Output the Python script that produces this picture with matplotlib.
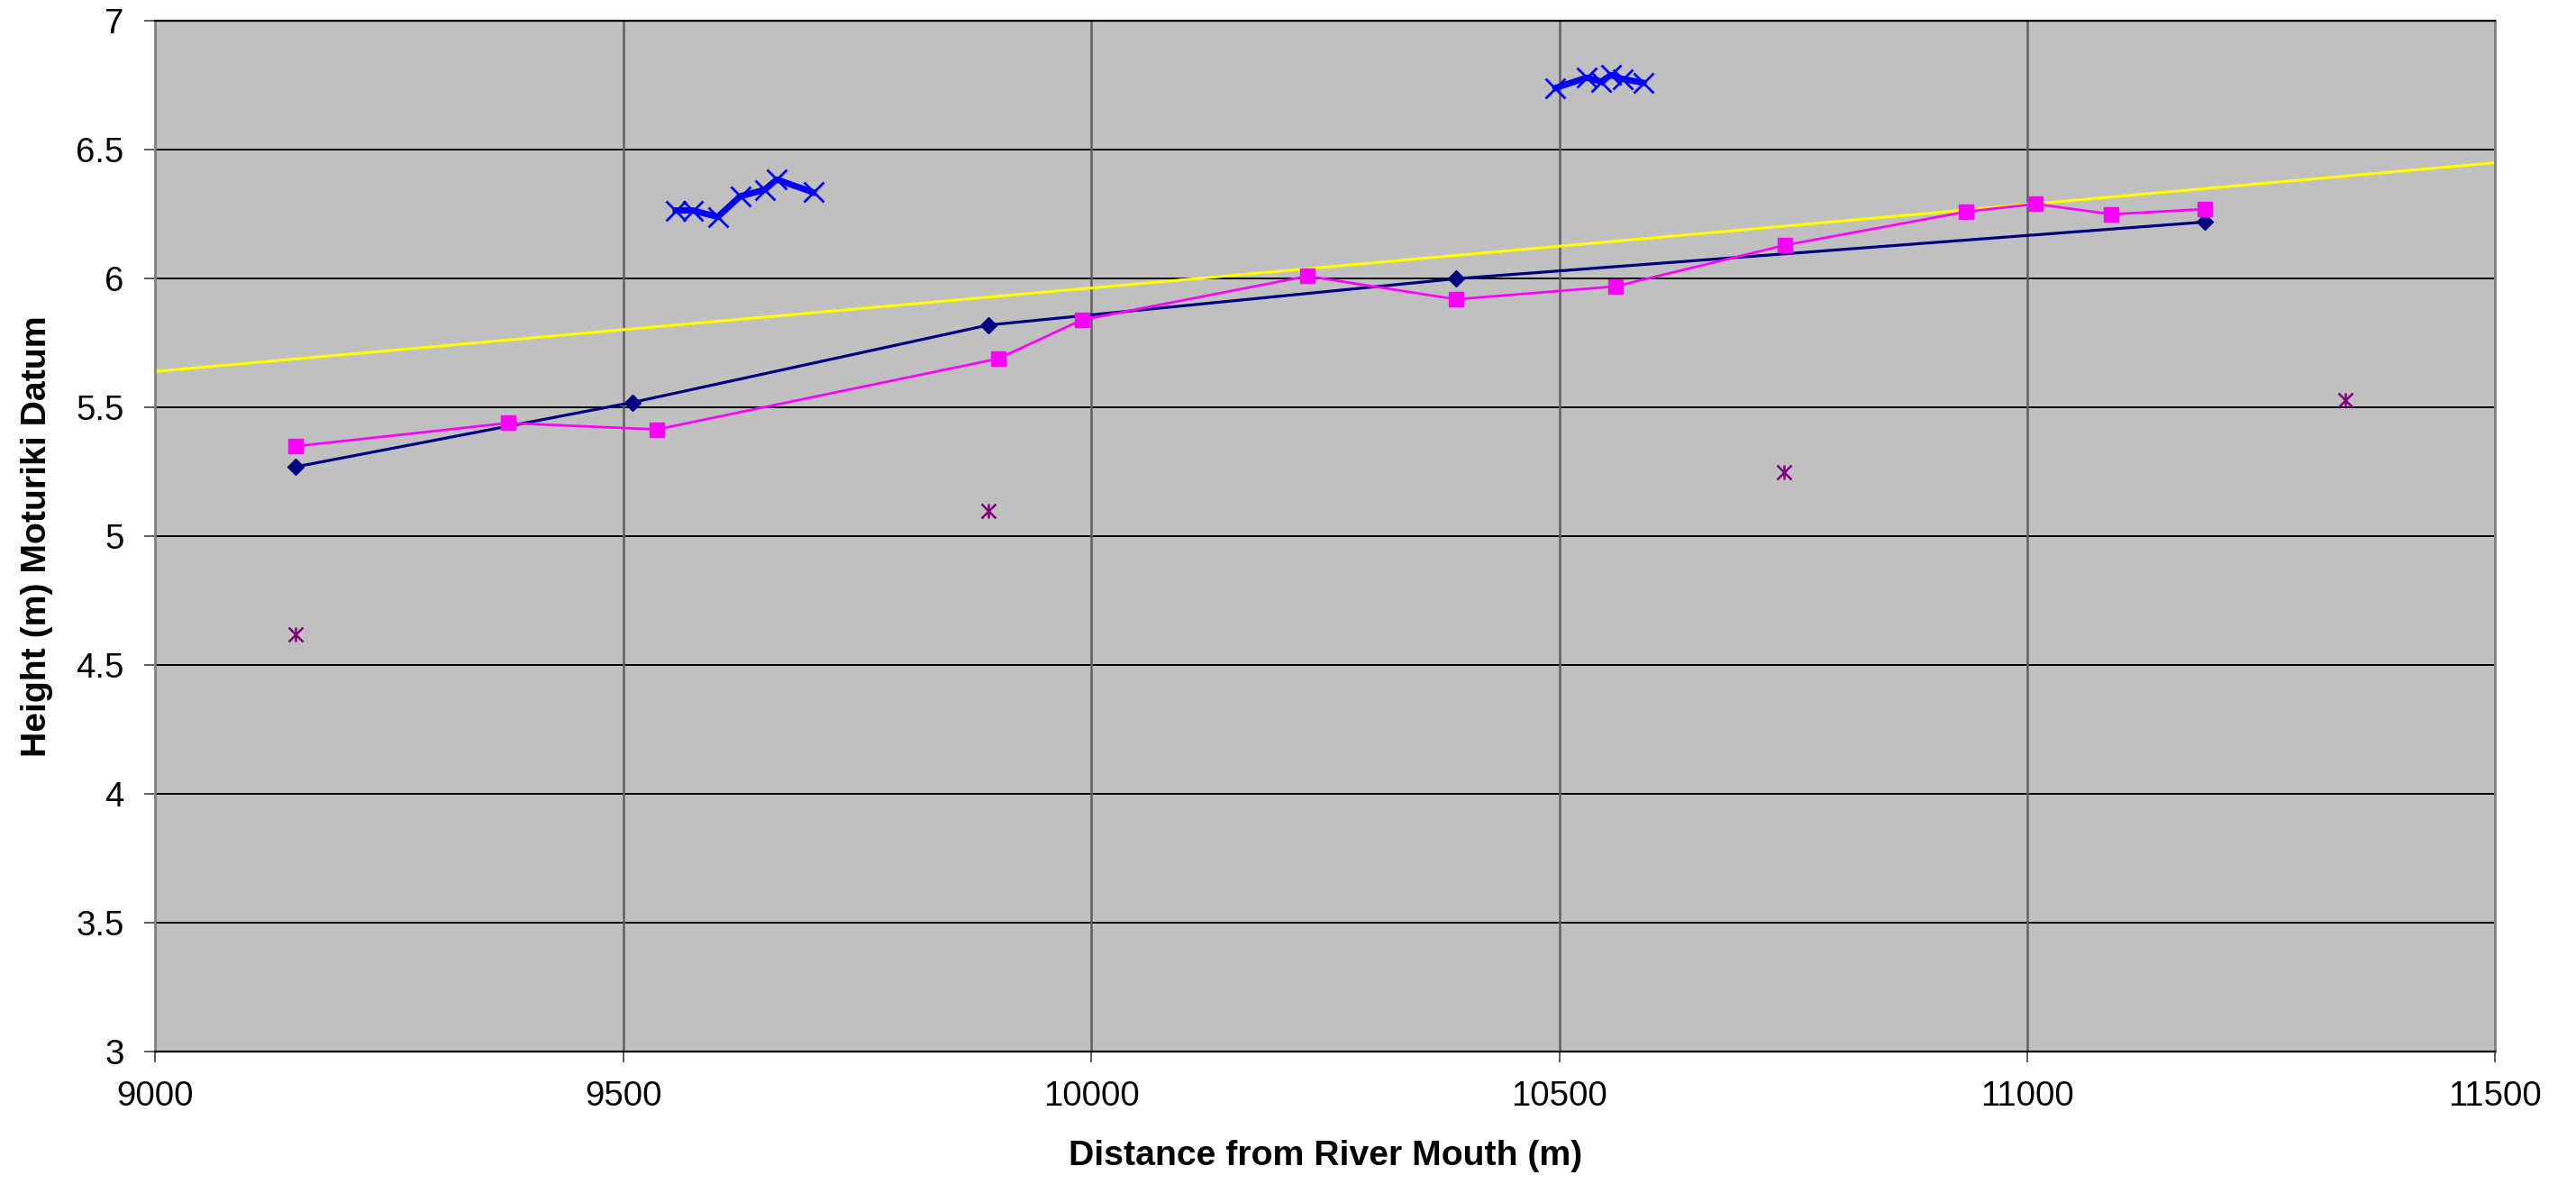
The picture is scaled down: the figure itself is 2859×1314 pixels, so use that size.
import matplotlib
matplotlib.use("Agg")
import matplotlib.pyplot as plt

# Survey line (navy diamonds)
survey_x = [9150, 9510, 9890, 10390, 11190]
survey_y = [5.27, 5.52, 5.82, 6.00, 6.22]

# Second profile (magenta squares)
profile_x = [9150, 9377, 9536, 9901, 9990, 10231, 10390, 10560, 10741, 10935, 11009, 11090, 11190]
profile_y = [5.35, 5.44, 5.415, 5.69, 5.84, 6.01, 5.92, 5.97, 6.13, 6.26, 6.29, 6.25, 6.27]

# Trend line (yellow)
trend_x = [9000, 11500]
trend_y = [5.64, 6.45]

# Bed points (purple asterisks)
bed_x = [9150, 9890, 10740, 11340]
bed_y = [4.62, 5.10, 5.25, 5.53]

# Flood marks group 1 (blue crosses)
flood1_x = [9556, 9574, 9601, 9625, 9651, 9664, 9703]
flood1_y = [6.265, 6.265, 6.24, 6.32, 6.345, 6.385, 6.335]

# Flood marks group 2 (blue crosses)
flood2_x = [10496, 10529, 10545, 10555, 10568, 10590]
flood2_y = [6.74, 6.78, 6.765, 6.79, 6.775, 6.76]

xticks = [9000, 9500, 10000, 10500, 11000, 11500]
yticks = [3, 3.5, 4, 4.5, 5, 5.5, 6, 6.5, 7]

plt.rcParams['font.family'] = ['Liberation Sans', 'DejaVu Sans']

fig = plt.figure(figsize=(28.59, 13.14), dpi=100)
ax = fig.add_axes([172.3/2859, 1 - 1167.3/1314, (2769.3-172.3)/2859, (1167.3-23.3)/1314])
ax.set_facecolor('#C0C0C0')

# grid
for yv in yticks:
    ax.axhline(yv, color='black', lw=1.4, zorder=1)
for xv in xticks[1:-1]:
    ax.axvline(xv, color='#606060', lw=1.8, zorder=1)

ax.plot(trend_x, trend_y, color='#FFFF00', lw=2.3, zorder=2)
ax.plot(survey_x, survey_y, color='#000080', lw=2.3, marker='D', ms=9.5, zorder=3)
ax.plot(profile_x, profile_y, color='#FF00FF', lw=2.0, marker='s', ms=11, zorder=3)
ax.plot(bed_x, bed_y, ls='none', marker='x', ms=11, mew=1.8, color='#800080', zorder=3)
ax.plot(bed_x, bed_y, ls='none', marker='|', ms=12, mew=1.8, color='#800080', zorder=3)
ax.plot(flood1_x, flood1_y, color='#0000FF', lw=5, marker='x', ms=16, mew=2, zorder=4)
ax.plot(flood2_x, flood2_y, color='#0000FF', lw=5, marker='x', ms=16, mew=2, zorder=4)

ax.set_xlim(9000, 11500)
ax.set_ylim(3, 7)
ax.set_xticks(xticks)
ax.set_yticks(yticks)
ax.set_xticklabels([str(v) for v in xticks])
ax.set_yticklabels(['3', '3.5', '4', '4.5', '5', '5.5', '6', '6.5', '7'])
ax.tick_params(axis='both', labelsize=27.6, length=8.5, width=1.2, color='#404040')
ax.tick_params(axis='y', pad=16.5)
ax.tick_params(axis='x', pad=14)

for s in ['left', 'right']:
    ax.spines[s].set_color('#808080')
    ax.spines[s].set_linewidth(2)
for s in ['top', 'bottom']:
    ax.spines[s].set_color('black')
    ax.spines[s].set_linewidth(1.6)

ax.set_xlabel('Distance from River Mouth (m)', fontsize=28.3, fontweight='bold', labelpad=22)
ax.set_ylabel('Height (m) Moturiki Datum', fontsize=28.3, fontweight='bold', labelpad=18)

fig.savefig('out.png', dpi=100, facecolor='white')
